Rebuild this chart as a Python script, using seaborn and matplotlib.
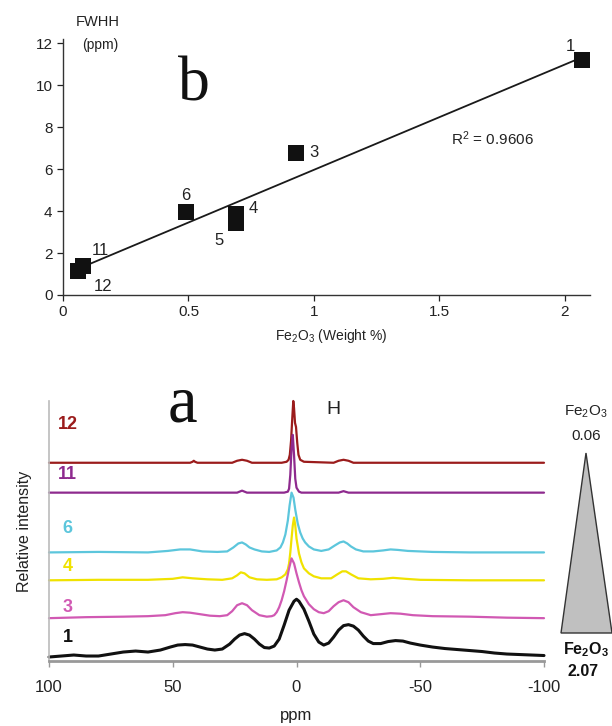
import numpy as np
import pandas as pd
import matplotlib
matplotlib.use("Agg")
import matplotlib.pyplot as plt
import seaborn as sns
from matplotlib.patches import Polygon

# ---------------- data: panel b ----------------
samples = ["1", "3", "6", "4", "5", "11", "12"]
fe2o3 = [2.07, 0.93, 0.49, 0.69, 0.69, 0.08, 0.06]
fwhh = [11.2, 6.75, 3.97, 3.85, 3.45, 1.4, 1.15]
r2_text = "R$^2$ = 0.9606"

# ---------------- data: panel a (spectra) ----------------
spec_names = ["12", "11", "6", "4", "3", "1"]
spec_colors = ["#9b1c1c", "#8e2a8e", "#5cc6dc", "#f0e200", "#d159b3", "#111111"]
spec_offsets = [199, 169, 109, 81, 43, 0]

ppm12 = [100, 43, 42, 41.5, 41, 40, 26, 24, 22, 20, 18, 6, 4, 3.2, 2.7, 2.2, 1.7, 1.3, 1, 0.6, 0.2, -0.3, -0.8, -1.5, -3, -15, -17, -19, -21, -23, -100]
int12 = [0, 0, 1, 2, 1, 0, 0, 2, 3, 2, 0, 0, 1, 3, 8, 22, 45, 62, 55, 40, 36, 20, 8, 3, 1, 0, 2, 3, 2, 0, 0]

ppm11 = [100, 24, 22, 20, 5, 3.5, 3, 2.5, 2, 1.5, 1, 0.5, 0, -1, -2, -17, -19, -21, -100]
int11 = [0, 0, 2, 0, 0, 1, 4, 18, 45, 58, 38, 14, 5, 1, 0, 0, 1.5, 0, 0]

ppm6 = [100, 80, 60, 52, 47, 43, 38, 32, 28, 25.5, 23.5, 22, 20.5, 19, 17, 14, 11, 8, 6.5, 5.5, 4.5, 3.5, 2.8, 2, 1.2, 0.5, -0.5, -1.5, -2.5, -3.5, -5, -7, -10, -13, -15.5, -17.5, -19, -20.5, -22, -24, -27, -31, -35, -38, -41, -45, -55, -70, -100]
int6 = [0, 0.5, 0, 1.5, 3, 3, 1, 0.5, 1, 5, 9, 10, 8, 5, 3, 1, 0.5, 2, 5, 10, 18, 32, 47, 60, 55, 43, 29, 20, 14, 10, 6, 3, 1.5, 3, 7, 10, 11, 9, 6, 3, 1, 1, 2, 3, 2.5, 1.5, 0.5, 0, 0]

ppm4 = [100, 80, 60, 50, 46, 42, 36, 30, 26, 24, 22.5, 21, 19, 16, 12, 8, 6, 4.5, 3.5, 3, 2.5, 2, 1.5, 1, 0.5, 0, -1, -2, -3, -5, -7, -10, -14, -16.5, -18.5, -20, -22, -25, -30, -35, -39, -44, -50, -70, -100]
int4 = [0, 0.5, 0.5, 1.5, 3, 2, 1, 0.5, 2, 5, 8, 7, 3, 1, 0.5, 1, 3, 6, 11, 17, 28, 42, 55, 63, 55, 42, 27, 18, 12, 7, 4, 2, 2, 6, 9, 9, 6, 2, 1, 1.5, 2.5, 1.5, 0.5, 0, 0]

ppm3 = [100, 85, 70, 60, 53, 49, 46, 43, 39, 35, 31, 28, 26, 24, 22, 20, 18, 15, 12, 10, 9, 8, 7, 6, 5, 4, 3, 2, 1, 0, -1, -2, -3, -5, -7, -9, -11, -13, -15, -17, -19, -21, -23, -26, -30, -34, -38, -42, -47, -55, -70, -85, -100]
int3 = [0, 1, 1.5, 2, 3, 5, 6, 5.5, 4, 2.5, 2, 3, 7, 13, 15, 13, 8, 3, 1.5, 2, 3, 6, 11, 18, 27, 38, 50, 60, 55, 45, 36, 28, 22, 14, 9, 6, 5, 7, 12, 16, 18, 16, 11, 6, 3, 4, 5, 4.5, 3, 2, 1.5, 0.5, 0]

ppm1 = [100, 95, 90, 85, 80, 75, 70, 65, 60, 55, 51, 48, 45, 42, 39, 36, 33, 30, 27, 25, 23, 21, 19, 17, 15, 13, 11, 9, 7, 5, 3, 1, 0, -1, -3, -5, -7, -9, -11, -13, -15, -17, -19, -21, -23, -25, -27, -29, -31, -34, -37, -40, -43, -46, -50, -55, -60, -65, -70, -75, -80, -85, -90, -95, -100]
int1 = [4, 5, 6, 5, 5, 7, 9, 10, 9, 11, 14, 16, 16.5, 16, 14, 12, 11, 12, 17, 22, 26, 27.5, 26, 22, 17, 13.5, 13, 15, 22, 36, 51, 60, 62, 60, 52, 40, 27, 19, 16, 18, 24, 31, 35.5, 36.5, 35, 31, 25, 20, 17.5, 17.5, 19.5, 20.5, 20, 18, 16, 14, 12.5, 11.5, 10.5, 9.5, 8, 7, 6.5, 6, 5.5]

spec_ppm = [ppm12, ppm11, ppm6, ppm4, ppm3, ppm1]
spec_int = [int12, int11, int6, int4, int3, int1]

ppm_ticks = [100, 50, 0, -50, -100]

# ---------------- style ----------------
sns.set_style("ticks")
plt.rcParams["font.family"] = ["Liberation Sans", "DejaVu Sans"]
plt.rcParams["mathtext.fontset"] = "custom"
plt.rcParams["mathtext.rm"] = "Liberation Sans"
plt.rcParams["mathtext.it"] = "Liberation Sans"
plt.rcParams["mathtext.bf"] = "Liberation Sans:bold"

W, H = 612, 726
fig = plt.figure(figsize=(W / 100, H / 100), dpi=100)

def fx(px):
    return px / W

def fy(py):
    return 1 - py / H

# ---------------- panel b ----------------
axb = fig.add_axes([fx(63), fy(295), fx(590) - fx(63), fy(39) - fy(295)])
dfb = pd.DataFrame({"fe": fe2o3, "fwhh": fwhh, "s": samples})
sns.regplot(data=dfb, x="fe", y="fwhh", ci=None, marker="s", ax=axb,
            scatter_kws=dict(s=120, color="#111111", alpha=1, linewidths=0, zorder=3),
            line_kws=dict(color="#1a1a1a", lw=1.3, zorder=2))
axb.set_xlim(0, 2.1)
axb.set_ylim(0, 12.2)
axb.set_xticks([0, 0.5, 1, 1.5, 2])
axb.set_xticklabels(["0", "0.5", "1", "1.5", "2"])
axb.set_yticks([0, 2, 4, 6, 8, 10, 12])
axb.tick_params(labelsize=11, length=4, width=0.9, colors="#222222", direction="out")
sns.despine(ax=axb)
for sp in ["left", "bottom"]:
    axb.spines[sp].set_linewidth(1.0)
    axb.spines[sp].set_color("#333333")
axb.set_xlabel("")
axb.set_ylabel("")

label_off = {"1": (-0.05, 0.65), "3": (0.07, 0.05), "6": (0.0, 0.75),
             "4": (0.07, 0.25), "5": (-0.07, -0.85), "11": (0.07, 0.72), "12": (0.1, -0.75)}
for s, x, y in zip(samples, fe2o3, fwhh):
    dx, dy = label_off[s]
    axb.text(x + dx, y + dy, s, fontsize=12, ha="center", va="center", color="#222222")

axb.text(1.71, 7.45, r2_text, fontsize=11, ha="center", va="center", color="#222222")
axb.text(0.52, 10.0, "b", fontsize=46, family=["Liberation Serif", "DejaVu Serif"],
         ha="center", va="center", color="#111111")
fig.text(fx(98), fy(22), "FWHH", fontsize=10.5, ha="center", va="center", color="#222222")
fig.text(fx(100), fy(45), "(ppm)", fontsize=10, ha="center", va="center", color="#222222")
fig.text(fx(331), fy(336), r"Fe$_2$O$_3$ (Weight %)", fontsize=10, ha="center", va="center", color="#222222")

# ---------------- panel a ----------------
axa = fig.add_axes([fx(49), fy(661), fx(544) - fx(49), fy(401) - fy(661)])
for name, col, off, pp, ii in zip(spec_names, spec_colors, spec_offsets, spec_ppm, spec_int):
    d = pd.DataFrame({"ppm": pp, "y": np.asarray(ii, dtype=float) + off})
    sns.lineplot(data=d, x="ppm", y="y", sort=False, estimator=None, color=col,
                 lw=2.2 if name == "1" else 1.6, ax=axa, clip_on=False)
axa.set_xlim(100, -100)
axa.set_ylim(0, 261)
axa.set_xticks(ppm_ticks)
axa.set_xticklabels([str(t) for t in ppm_ticks])
axa.set_yticks([])
axa.tick_params(axis="x", labelsize=12, length=4, width=1.0, colors="#999999", labelcolor="#222222", pad=10)
sns.despine(ax=axa)
axa.spines["left"].set_color("#bbbbbb")
axa.spines["left"].set_linewidth(1.2)
axa.spines["bottom"].set_color("#999999")
axa.spines["bottom"].set_linewidth(2.0)
axa.set_xlabel("ppm", fontsize=12, color="#222222", labelpad=9)
axa.set_ylabel("Relative intensity", fontsize=11.5, color="#222222", labelpad=12)

label_y = [237, 187, 133, 95, 54, 24]
for name, col, ly in zip(spec_names, spec_colors, label_y):
    axa.text(92.5, ly, name, color=col, fontsize=13, fontweight="bold", ha="center", va="center")

axa.text(46, 257, "a", fontsize=48, family=["Liberation Serif", "DejaVu Serif"],
         ha="center", va="center", color="#111111", clip_on=False)
axa.text(-15, 252, "H", fontsize=14, ha="center", va="center", color="#222222", clip_on=False)

# ---------------- Fe2O3 gradient triangle ----------------
tri = Polygon([(fx(586), fy(453)), (fx(561), fy(633)), (fx(612), fy(633))],
              closed=True, transform=fig.transFigure, facecolor="#c0c0c0",
              edgecolor="#333333", lw=1.0)
fig.patches.append(tri)
fig.text(fx(586), fy(412), r"Fe$_2$O$_3$", fontsize=11, ha="center", va="center", color="#222222")
fig.text(fx(586), fy(436), "0.06", fontsize=11, ha="center", va="center", color="#222222")
fig.text(fx(586), fy(650), r"$\mathbf{Fe_2O_3}$", fontsize=11.5, ha="center", va="center", color="#111111")
fig.text(fx(583), fy(671), "2.07", fontsize=11.5, fontweight="bold", ha="center", va="center", color="#111111")

fig.savefig("out.png", dpi=100)
